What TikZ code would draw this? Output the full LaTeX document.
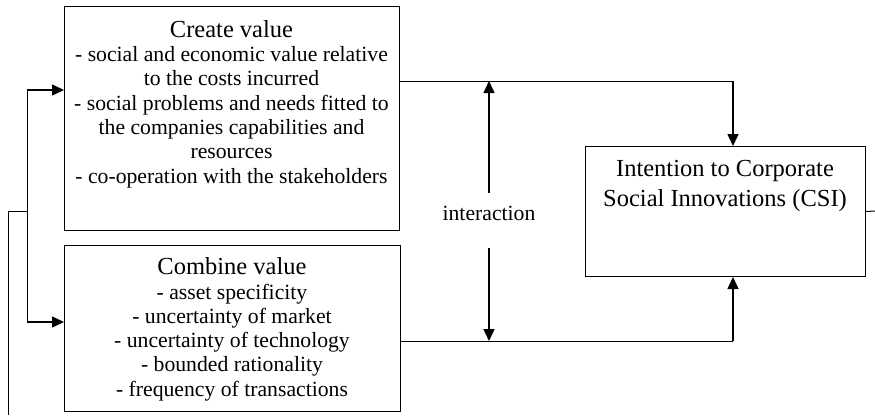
\documentclass[tikz,border=0pt]{standalone}
\usepackage{fontspec}
\setmainfont{Liberation Serif}
\usetikzlibrary{arrows.meta}
\begin{document}
\begin{tikzpicture}[x=1pt,y=-1pt,
  box/.style={draw, line width=1pt, inner sep=0pt},
  txt/.style={align=center, inner sep=0pt, font=\fontsize{21.7}{24.3}\selectfont},
  ttl/.style={font=\fontsize{24.5}{29.5}\selectfont},
  arr/.style={line width=1.5pt, -{Triangle[length=12pt,width=11pt]}},
  ln/.style={line width=1pt}]
\useasboundingbox (0,0) rectangle (875,415);
% boxes
\node[box, minimum width=335pt, minimum height=224pt, anchor=north west] (create) at (64,6) {};
\node[box, minimum width=336pt, minimum height=166pt, anchor=north west] (combine) at (64,245) {};
\node[box, minimum width=280pt, minimum height=130pt, anchor=north west] (csi) at (585,146) {};
% texts
\node[txt, anchor=north] (createtxt) at (231.5,20) {{\fontsize{24.5}{24.3}\selectfont Create value}\\
- social and economic value relative\\
to the costs incurred\\
- social problems and needs fitted to\\
the companies capabilities and\\
resources\\
- co-operation with the stakeholders};
\node[txt, anchor=north] (combinetxt) at (232,257.5) {{\fontsize{24.5}{24.3}\selectfont Combine value}\\
- asset specificity\\
- uncertainty of market\\
- uncertainty of technology\\
- bounded rationality\\
- frequency of transactions};
\node[ttl, align=center, inner sep=0pt, anchor=north] (csitxt) at (725,160.5) {Intention to Corporate\\Social Innovations (CSI)};
\node[txt] (inter) at (489,213) {interaction};
% coordinates
\coordinate (cout) at (399,81);
\coordinate (cturn) at (733,81);
\coordinate (bout) at (400,341);
\coordinate (bturn) at (733,341);
\coordinate (itop) at (489,193);
\coordinate (ibot) at (489,248);
\coordinate (ltop) at (27,90);
\coordinate (lbot) at (27,322);
\coordinate (lmid) at (27,211);
\coordinate (lfar) at (8,211);
\coordinate (lend) at (8,415);
\coordinate (rend) at (875,211);
% connectors
\draw[ln] (cout) -- (cturn);
\draw[arr] (cturn) -- (csi.north -| cturn);
\draw[ln] (bout) -- (bturn);
\draw[arr] (bturn) -- (csi.south -| bturn);
\draw[arr] (itop) -- (itop |- cout);
\draw[arr] (ibot) -- (ibot |- bout);
\draw[ln] (ltop) -- (lbot);
\draw[arr] (ltop) -- (create.west |- ltop);
\draw[arr] (lbot) -- (combine.west |- lbot);
\draw[ln] (lmid) -- (lfar) -- (lend);
\draw[ln] (csi.east) -- (rend);
\end{tikzpicture}
\end{document}
